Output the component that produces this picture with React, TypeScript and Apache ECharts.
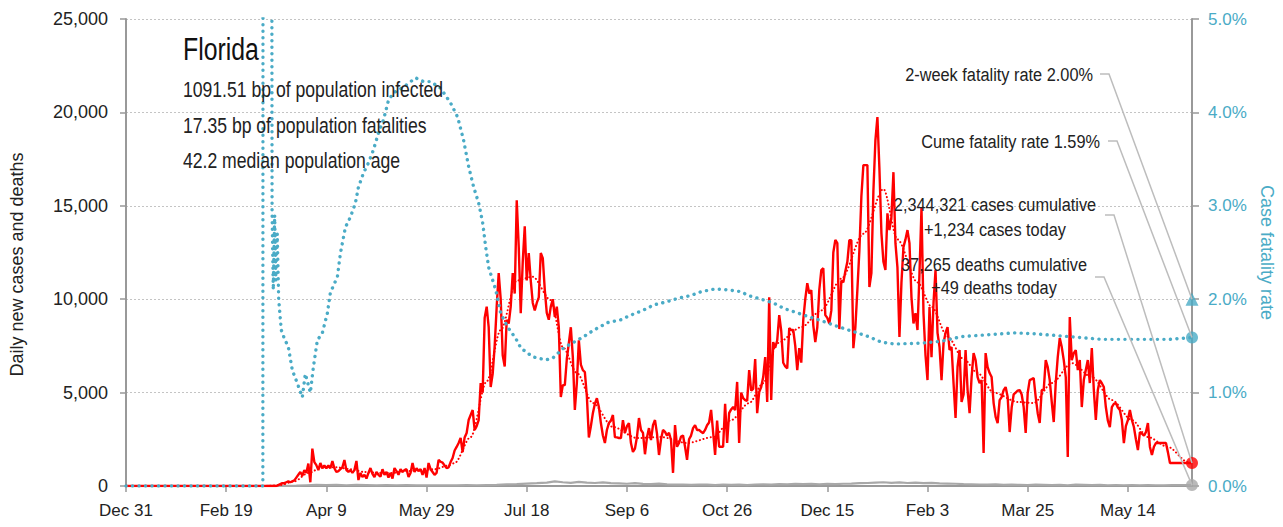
import React, { useEffect, useRef } from "react";
import * as echarts from "echarts";

const FONT = "'Liberation Sans', Arial, sans-serif";
const RED = "#ff0000";
const BLUE = "#4aabc6";
const GREY = "#a8a8a8";
const TEXT = "#222222";

// ---- axis ticks ----
const lastDay = 532; // days since Dec 31, 2019
const xTickDays = [0, 50, 100, 150, 200, 250, 300, 350, 400, 450, 500];
const xTickLabels = ["Dec 31", "Feb 19", "Apr 9", "May 29", "Jul 18", "Sep 6", "Oct 26", "Dec 15", "Feb 3", "Mar 25", "May 14"];

// ---- header ----
const stateName = "Florida";
const headerLines = [
  "1091.51 bp of population infected",
  "17.35 bp of population fatalities",
  "42.2 median population age",
];

// ---- end values ----
const twoWeekFatalityRate = 2.0;
const cumeFatalityRate = 1.59;
const casesCumulative = "2,344,321";
const casesToday = 1234;
const deathsCumulative = "37,265";
const deathsToday = 49;

// ---- daily new cases, index = day since Dec 31, 2019 ----
const dailyCases = [
  0, 0, 0, 0, 0, 0, 0, 0, 0, 0,
  0, 0, 0, 0, 0, 0, 0, 0, 0, 0,
  0, 0, 0, 0, 0, 0, 0, 0, 0, 0,
  0, 0, 0, 0, 0, 0, 0, 0, 0, 0,
  0, 0, 0, 0, 0, 0, 0, 0, 0, 0,
  0, 0, 0, 0, 0, 0, 0, 0, 0, 0,
  0, 0, 0, 0, 0, 0, 0, 0, 0, 0,
  0, 0, 0, 0, 0, 0, 50, 100, 150, 150,
  200, 250, 200, 250, 300, 450, 600, 750, 550, 850,
  700, 1200, 200, 2000, 1280, 1120, 850, 1230, 950, 1100,
  950, 1100, 950, 1340, 950, 750, 800, 900, 1000, 1390,
  850, 750, 850, 700, 850, 1340, 320, 700, 480, 600,
  400, 700, 960, 650, 480, 750, 600, 500, 900, 600,
  750, 450, 700, 400, 960, 800, 600, 900, 750, 850,
  900, 480, 700, 1230, 750, 950, 800, 900, 600, 960,
  450, 1230, 900, 750, 600, 700, 1390, 1300, 1250, 1100,
  960, 1000, 1280, 1500, 1900, 2090, 2300, 2570, 1820, 2600,
  2836, 3530, 3800, 4066, 3000, 3200, 3530, 5511, 5000, 9000,
  9600, 8500, 5300, 6000, 7500, 9600, 11400, 10000, 7000, 6400,
  8900, 8700, 9600, 11400, 10300, 15300, 12800, 9250, 12000, 13900,
  11000, 12470, 11000, 9800, 9400, 9800, 10100, 12470, 12200, 10500,
  9260, 8900, 9600, 10000, 9050, 9600, 8500, 4760, 5400, 5400,
  6800, 7650, 8500, 6900, 4070, 5500, 7800, 6500, 6200, 6100,
  4800, 2600, 3200, 3900, 4400, 4700, 4230, 3370, 2700, 2300,
  3000, 3370, 3500, 3800, 2620, 2600, 2570, 2570, 3530, 2840,
  3200, 3370, 2300, 1820, 2000, 2620, 3640, 3000, 2840, 1700,
  2600, 3100, 2460, 3260, 3530, 2800, 1660, 2500, 3000, 2900,
  2700, 2850, 2460, 700, 3260, 2100, 2300, 2650, 2700, 2100,
  1400, 2500, 2700, 3100, 3260, 3000, 3000, 2900, 2830, 3000,
  3250, 3400, 4070, 2900, 1660, 3500, 2100, 2100, 2100, 4400,
  2300, 3900, 4100, 4230, 4066, 5570, 2300, 5000, 4700, 4600,
  4550, 6200, 5100, 5200, 6800, 3900, 5030, 5300, 5830, 6900,
  4500, 10100, 4600, 7700, 7400, 7800, 9150, 8300, 6600, 6400,
  6300, 8450, 8350, 8350, 7500, 6200, 7383, 6600, 8900, 10000,
  10860, 10300, 10490, 8600, 7700, 8500, 10500, 11560, 11660, 9150,
  9000, 8700, 9400, 12500, 13170, 13000, 8400, 11000, 10900, 11500,
  12000, 13160, 13160, 7380, 8500, 10500, 12600, 15500, 17180, 17180,
  17180, 10650, 11400, 15800, 18500, 19750, 17000, 13540, 12000, 11560,
  14600, 13700, 14400, 16800, 13000, 11700, 7980, 10900, 12790, 13200,
  13700, 13000, 10100, 8700, 9250, 8350, 11400, 14900, 9250, 7000,
  5670, 9580, 6900, 9800, 11560, 8200, 7440, 5670, 7650, 8190,
  8500, 7280, 7440, 5500, 3640, 6370, 7280, 4500, 4900, 7280,
  5140, 3900, 5830, 7116, 6740, 5830, 5511, 5671, 1770, 7116,
  6367, 6046, 5832, 4440, 3700, 3370, 4601, 4762, 5136, 5297,
  4762, 2889, 4200, 4900, 5000, 5100, 5136, 4900, 4227, 2836,
  4976, 5671, 5720, 5778, 4762, 3900, 3370, 5136, 5136, 6741,
  6367, 5671, 4500, 3424, 5511, 6902, 7918, 7437, 6741, 5832,
  1552, 9042, 6741, 7116, 7276, 6206, 6741, 4227, 5671, 6206,
  6741, 5511, 7383, 5136, 3531, 5136, 5671, 5500, 5297, 4227,
  3500, 3157, 4227, 4400, 4440, 4200, 4066, 3531, 2300, 3200,
  3531, 4066, 3531, 3157, 2500, 1926, 2889, 2800, 2700, 2889,
  3370, 2090, 1660, 2100, 2300, 2300, 2300, 2300, 2300, 2300,
  1800, 1230, 1230, 1230, 1230, 1230, 1230, 1230, 1230, 1230,
  1230, 1230, 1234,
];

// ---- 7-day average of cases: [day, value] ----
const casesAvg = [
  [0, 0], [70, 0], [77, 50], [84, 250], [91, 700], [98, 1000], [105, 1000], [112, 900],
  [119, 750], [126, 700], [133, 700], [140, 800], [147, 850], [154, 900], [161, 1100],
  [164, 1230], [172, 2620], [180, 5600], [187, 8350], [195, 11000], [203, 11200],
  [212, 9950], [218, 7440], [225, 6050], [233, 4440], [243, 3160], [255, 2570],
  [267, 2620], [280, 2300], [293, 2620], [302, 3530], [311, 4440], [318, 5500],
  [325, 7650], [337, 8500], [347, 9400], [357, 11100], [368, 13500], [378, 15900],
  [385, 13200], [395, 10900], [402, 9600], [410, 8000], [418, 6800], [425, 6050],
  [433, 5000], [445, 4500], [453, 4440], [462, 5510], [472, 6580], [482, 5830],
  [492, 4600], [502, 3530], [510, 2620], [520, 2090], [530, 1280], [532, 1234],
];

// ---- daily deaths: [day, value] ----
const dailyDeaths = [
  [0, 0], [65, 0], [70, 2], [75, 5], [80, 10], [85, 20], [90, 40], [95, 55], [100, 45],
  [105, 60], [110, 40], [115, 55], [120, 45], [125, 35], [130, 50], [135, 40], [140, 45],
  [145, 30], [150, 40], [155, 35], [160, 40], [165, 30], [170, 45], [175, 40], [180, 50],
  [185, 60], [190, 90], [195, 100], [200, 130], [205, 150], [210, 180], [214, 250],
  [218, 200], [222, 170], [226, 220], [230, 180], [234, 160], [238, 190], [242, 150],
  [246, 140], [250, 120], [254, 150], [258, 110], [262, 100], [266, 130], [270, 90],
  [274, 70], [278, 80], [282, 60], [286, 75], [290, 70], [294, 50], [298, 80], [302, 60],
  [306, 70], [310, 50], [314, 80], [318, 90], [322, 70], [326, 100], [330, 90], [334, 110],
  [338, 100], [342, 120], [346, 90], [350, 110], [354, 100], [358, 120], [362, 130],
  [366, 150], [370, 160], [374, 180], [378, 200], [382, 170], [386, 190], [390, 160],
  [394, 180], [398, 150], [402, 170], [406, 140], [410, 130], [414, 120], [418, 100],
  [422, 90], [426, 80], [430, 70], [434, 90], [438, 60], [442, 70], [446, 60], [450, 50],
  [454, 70], [458, 60], [462, 50], [466, 60], [470, 40], [474, 70], [478, 60], [482, 50],
  [486, 60], [490, 40], [494, 50], [498, 40], [502, 50], [506, 30], [510, 45], [514, 40],
  [518, 35], [522, 49], [532, 49],
];

// ---- cumulative case fatality rate (%): [day, value] ----
const caseFatalityRate = [
  [0, 0], [68.3, 0], [68.6, 25], [70, 20], [72.5, 12], [72.9, 2.95], [73.5, 2.1], [74.2, 2.9],
  [74.8, 2.2], [75.5, 2.7], [76.2, 2.0], [77.5, 1.67], [79, 1.58], [81, 1.49], [83, 1.24],
  [85.5, 1.1], [88, 0.95], [89.5, 1.2], [92, 1.0], [93.5, 1.27], [95.5, 1.56], [98, 1.64],
  [100.5, 1.85], [102, 2.07], [105.5, 2.24], [107, 2.49], [109.5, 2.77], [112, 2.88],
  [114.5, 3.03], [116, 3.2], [118.5, 3.35], [121, 3.46], [123.5, 3.6], [126, 3.78],
  [128.5, 3.92], [131, 4.13], [133.5, 4.21], [138.5, 4.27], [144.5, 4.37], [148.5, 4.33],
  [152, 4.33], [157, 4.26], [162, 4.1], [165.5, 3.95], [168.5, 3.7], [171, 3.42],
  [173.5, 3.2], [176, 3.03], [178, 2.82], [179.5, 2.56], [181, 2.34], [184.5, 2.1],
  [187, 1.85], [190.5, 1.7], [194.5, 1.58], [197, 1.48], [200.5, 1.42], [203.5, 1.38],
  [209.5, 1.35], [213, 1.37], [215.5, 1.42], [218.5, 1.48], [223.5, 1.54], [228.5, 1.6],
  [233.5, 1.67], [240.5, 1.75], [247, 1.78], [252, 1.83], [258, 1.88], [263.5, 1.94],
  [269.5, 1.97], [275.5, 2.01], [282, 2.04], [287, 2.08], [294, 2.11], [300.5, 2.1],
  [307, 2.08], [310.5, 2.04], [317, 2.0], [323, 1.96], [328.5, 1.9], [335.5, 1.85],
  [341, 1.81], [347, 1.77], [353.5, 1.72], [360.5, 1.67], [363.5, 1.65], [370.5, 1.6],
  [377, 1.54], [383.5, 1.52], [397, 1.53], [407, 1.55], [417, 1.6], [430.5, 1.62],
  [443.5, 1.64], [453.5, 1.63], [470.5, 1.6], [487, 1.57], [503.5, 1.57], [520.5, 1.57],
  [532, 1.59],
];

const fmtThousands = (v: number) => v.toLocaleString("en-US");

export default function App() {
  const ref = useRef<HTMLDivElement>(null);

  useEffect(() => {
    const chart = echarts.init(ref.current!, null, { renderer: "svg" });
    const option: any = {
      animation: false,
      textStyle: { fontFamily: FONT },
      grid: { left: 126, right: 91, top: 19, bottom: 41, containLabel: false, outerBoundsMode: "none" },
      xAxis: {
        type: "value",
        min: 0,
        max: lastDay,
        interval: 50,
        axisLine: { show: true, lineStyle: { color: "#999", width: 2 } },
        axisTick: { show: true, length: 6, lineStyle: { color: "#999", width: 1.5 }, customValues: xTickDays },
        axisLabel: {
          color: TEXT, fontSize: 17, fontFamily: FONT, margin: 16,
          customValues: xTickDays,
          formatter: (v: number) => {
            const i = xTickDays.indexOf(Math.round(v));
            return i >= 0 ? xTickLabels[i] : "";
          },
        },
        splitLine: { show: false },
      },
      yAxis: [
        {
          type: "value",
          min: 0, max: 25000, interval: 5000,
          name: "Daily new cases and deaths",
          nameLocation: "middle",
          nameGap: 100,
          nameRotate: 90,
          nameTextStyle: { color: TEXT, fontSize: 18, fontFamily: FONT, padding: [0, 24, 0, 0] },
          axisLine: { show: true, lineStyle: { color: "#999", width: 2 } },
          axisTick: { show: true, length: 6, lineStyle: { color: "#999", width: 1.5 } },
          axisLabel: { color: TEXT, fontSize: 18, fontFamily: FONT, margin: 18, formatter: fmtThousands },
          splitLine: { show: true, lineStyle: { color: "#c4c4c4", width: 1, type: [2, 2] } },
        },
        {
          type: "value",
          min: 0, max: 5, interval: 1,
          position: "right",
          name: "Case fatality rate",
          nameLocation: "middle",
          nameGap: 43,
          nameRotate: -90,
          nameTextStyle: { color: BLUE, fontSize: 18, fontFamily: FONT },
          axisLine: { show: true, lineStyle: { color: "#999", width: 2 } },
          axisTick: { show: true, length: 7, lineStyle: { color: "#999", width: 1.5 } },
          axisLabel: { color: BLUE, fontSize: 17, fontFamily: FONT, margin: 16, formatter: (v: number) => v.toFixed(1) + "%" },
          splitLine: { show: false },
        },
      ],
      series: [
        {
          name: "Daily deaths",
          type: "line",
          data: dailyDeaths,
          symbol: "none",
          lineStyle: { color: GREY, width: 2.2 },
          z: 2,
        },
        {
          name: "Cases 7-day average",
          type: "line",
          data: casesAvg,
          symbol: "none",
          smooth: 0.3,
          smoothMonotone: "x",
          lineStyle: { color: RED, width: 2, type: [0.1, 3.6], cap: "round" },
          z: 3,
        },
        {
          name: "Daily cases",
          type: "line",
          data: dailyCases.map((v, i) => [i, v]),
          symbol: "none",
          lineStyle: { color: RED, width: 2.4 },
          z: 4,
        },
        {
          name: "Case fatality rate",
          type: "line",
          yAxisIndex: 1,
          data: caseFatalityRate,
          symbol: "none",
          smooth: false,
          lineStyle: { color: BLUE, width: 3.4, type: [0.1, 6.4], cap: "round" },
          z: 5,
        },
        {
          name: "cases today", type: "scatter", clip: false, symbol: "circle", symbolSize: 12,
          itemStyle: { color: RED }, data: [[lastDay, casesToday]], z: 6,
        },
        {
          name: "deaths today", type: "scatter", clip: false, symbol: "circle", symbolSize: 12,
          itemStyle: { color: GREY }, data: [[lastDay, deathsToday]], z: 6,
        },
        {
          name: "cume rate", type: "scatter", yAxisIndex: 1, clip: false, symbol: "circle", symbolSize: 12,
          itemStyle: { color: BLUE }, data: [[lastDay, cumeFatalityRate]], z: 6,
        },
        {
          name: "2-week rate", type: "scatter", yAxisIndex: 1, clip: false, symbol: "triangle", symbolSize: 13,
          itemStyle: { color: BLUE }, data: [[lastDay, twoWeekFatalityRate]], z: 6,
        },
      ],
    };
    chart.setOption(option);

    const pCases = chart.convertToPixel({ seriesIndex: 4 }, [lastDay, casesToday]) as number[];
    const pDeaths = chart.convertToPixel({ seriesIndex: 5 }, [lastDay, deathsToday]) as number[];
    const pCume = chart.convertToPixel({ seriesIndex: 6 }, [lastDay, cumeFatalityRate]) as number[];
    const pTwo = chart.convertToPixel({ seriesIndex: 7 }, [lastDay, twoWeekFatalityRate]) as number[];

    // condensed look: horizontally scaled text anchored at (x, y)
    const txt = (x: number, y: number, text: string, size: number, sx: number, align: string, color = TEXT) => ({
      type: "text", x, y, scaleX: sx, scaleY: 1, silent: true, z: 100,
      style: { text, fontSize: size, fontFamily: FONT, fill: color, align, verticalAlign: "middle" },
    });
    const leader = (x0: number, y0: number, p: number[]) => ({
      type: "polyline", silent: true, z: 90,
      shape: { points: [[x0, y0], [x0 + 9, y0], [p[0], p[1]]] },
      style: { stroke: "#bdbdbd", lineWidth: 1.5, fill: null },
    });

    chart.setOption({
      graphic: [
        txt(183, 50, stateName, 31, 0.8, "left", "#111"),
        txt(183, 89, headerLines[0], 22, 0.8, "left"),
        txt(183, 125, headerLines[1], 22, 0.8, "left"),
        txt(183, 160, headerLines[2], 22, 0.8, "left"),
        txt(1093, 75, `2-week fatality rate ${twoWeekFatalityRate.toFixed(2)}%`, 19, 0.86, "right"),
        txt(1100, 142, `Cume fatality rate ${cumeFatalityRate.toFixed(2)}%`, 19, 0.86, "right"),
        txt(995, 205, `${casesCumulative} cases cumulative`, 19, 0.86, "center"),
        txt(995, 230, `+${fmtThousands(casesToday)} cases today`, 19, 0.86, "center"),
        txt(994, 265, `${deathsCumulative} deaths cumulative`, 19, 0.86, "center"),
        txt(994, 288, `+${fmtThousands(deathsToday)} deaths today`, 19, 0.86, "center"),
        leader(1100, 74, pTwo),
        leader(1108, 141, pCume),
        leader(1105, 215, pCases),
        leader(1095, 277, pDeaths),
      ],
    });

    return () => chart.dispose();
  }, []);

  return (
    <div
      ref={ref}
      style={{ position: "absolute", left: 0, top: 0, width: 1283, height: 527 }}
    />
  );
}
